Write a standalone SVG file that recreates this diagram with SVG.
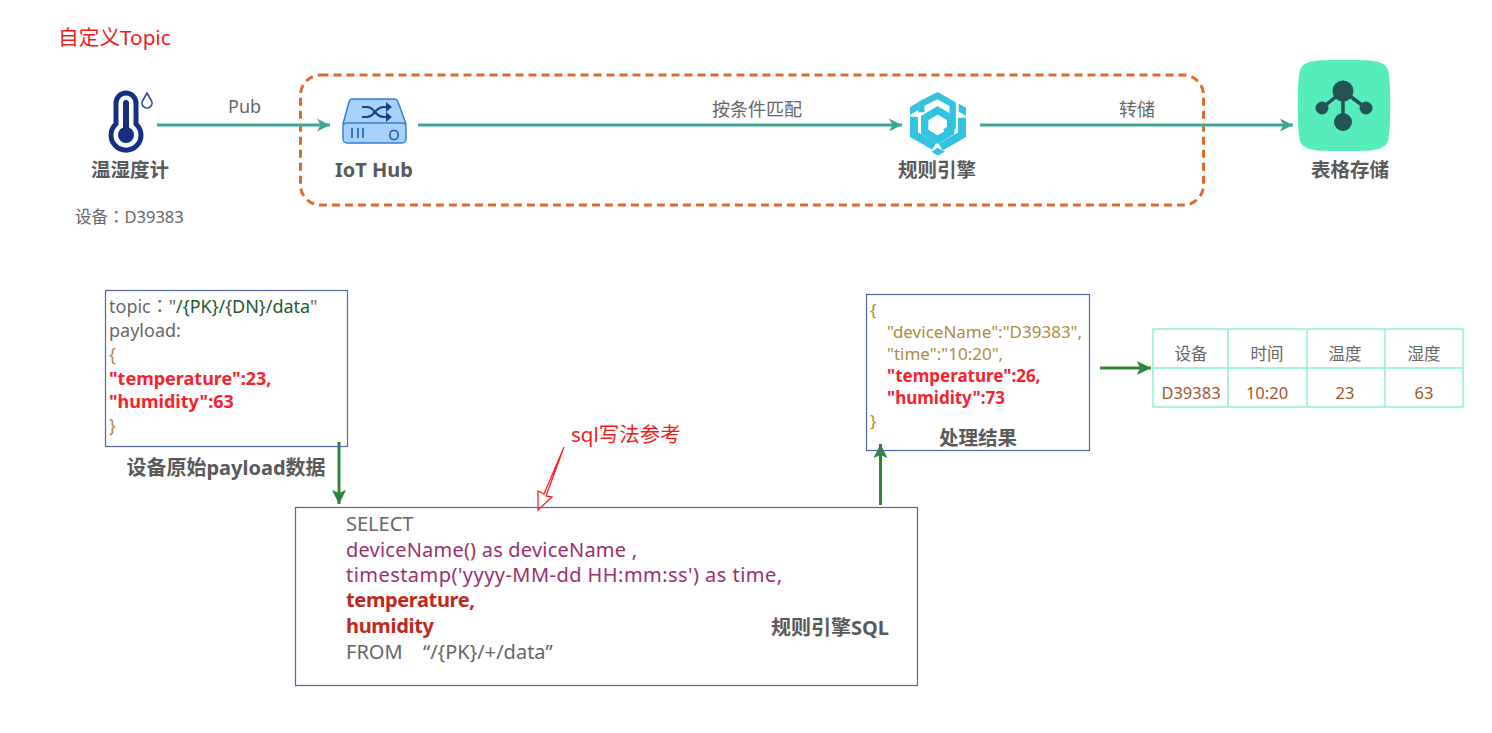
<svg xmlns="http://www.w3.org/2000/svg" width="1492" height="733" viewBox="0 0 1492 733">
<style>
text{font-family:"Noto Sans","Noto Sans CJK SC",sans-serif;fill:#666;font-size:18px}
.lbl{font-size:19.500px;font-weight:700;fill:#595959;text-anchor:middle}
.box{fill:none;stroke:#5462a8;stroke-width:1.2}
.teal{stroke:#3fa894;stroke-width:3;fill:none;marker-end:url(#mt)}
.green{stroke:#2f8437;stroke-width:3;fill:none;marker-end:url(#mg)}
.red{fill:#f5232d;font-weight:700}
.gold{fill:#b08a3e}
.pur{fill:#9b2f6f}
.dred{fill:#c0281c;font-weight:700}
.cell{fill:none;stroke:#86efd0;stroke-width:1.4}
.tc{font-size:16.500px;text-anchor:middle}
.tv{font-size:16.500px;text-anchor:middle;fill:#a0562e}
.sql{font-size:20px}
.res{font-size:17px}
.cy{fill:#31c3e0}
.cl{fill:none;stroke:#31c3e0;stroke-linejoin:miter}
.tw{font-family:"Noto Sans CJK TC",sans-serif}
</style>
<defs>
<marker id="mt" markerUnits="userSpaceOnUse" markerWidth="14" markerHeight="14" refX="13" refY="7" orient="auto"><path d="M0 0.500L13 7L0 13.500L3.500 7Z" fill="#3fa894"/></marker>
<marker id="mg" markerUnits="userSpaceOnUse" markerWidth="16" markerHeight="16" refX="14" refY="8" orient="auto"><path d="M0 1L14 8L0 15L3 8Z" fill="#2f8437"/></marker>
</defs>
<rect width="1492" height="733" fill="#fff"/>
<text id="title" x="58" y="45" style="fill:#f01c1c;font-size:20.700px">自定义Topic</text>

<g id="group-box"><rect x="300.500" y="75" width="903" height="130" rx="20" fill="none" stroke="#e06a2c" stroke-width="3" stroke-dasharray="8 5"/></g>

<g id="connectors">
<path class="teal" d="M157 125H330"/>
<path class="teal" d="M418 125H902"/>
<path class="teal" d="M980 125H1293"/>
<path class="green" d="M339 442V504"/>
<path class="green" d="M880.500 505V444"/>
<path class="green" d="M1100 368H1151"/>
<path d="M564 447L544 494L538 491L538 510L552 497L546 496Z" fill="#fff" stroke="#f5232d" stroke-width="1.300"/>
</g>
<text x="228" y="113">Pub</text>
<text x="712" y="116">按条件匹配</text>
<text x="1119" y="116">转储</text>

<g id="thermo">
<path d="M116 124V103A10 10 0 0 1 136 103V124A15 15 0 1 1 116 124Z" fill="none" stroke="#16307f" stroke-width="5"/>
<path d="M123 103A3 3 0 0 1 129 103V128H123Z" fill="#16307f"/>
<circle cx="126" cy="135" r="8" fill="#16307f"/>
<path d="M147 93L151 100A5 5 0 1 1 143 100Z" fill="#fff" stroke="#2b4a9a" stroke-width="1.600"/>
<text class="lbl" x="130" y="177">温湿度计</text>
<text x="75" y="223" style="font-size:16.500px">设备<tspan class="tw">：</tspan>D39383</text>
</g>

<g id="iothub">
<path d="M352 99H394Q397 99 398 102L406 124H343L349 102Q350 99 352 99Z" fill="#a8d2fb" stroke="#2f7fd6" stroke-width="1.500"/>
<rect x="343" y="123" width="63" height="20" rx="4" fill="#a8d2fb" stroke="#2f7fd6" stroke-width="1.500"/>
<path d="M362 107H367Q371 107 375 112Q379 117 384 117H388M362 117H367Q371 117 375 112Q379 107 384 107H388" fill="none" stroke="#16437f" stroke-width="2.200"/>
<path d="M386 102L392 107L386 112ZM386 112L392 117L386 122Z" fill="#16437f"/>
<path d="M352 128V138M358 128V138M363 128V138" stroke="#1f5fae" stroke-width="1.600"/>
<rect x="390" y="130.500" width="8" height="9" rx="3.500" fill="none" stroke="#1f5fae" stroke-width="1.600"/>
<text class="lbl" style="font-size:20px" x="374" y="177">IoT Hub</text>
</g>

<g id="rule-engine">
<g transform="translate(900 85) scale(.33333)">
<path class="cy" d="M30 66L55 52V75L30 90ZM176 56L198 68V92L176 80ZM113 188L135 200L113 212L95 200Z"/>
<path class="cl" stroke-width="24" d="M42 95V149L103 184"/>
<path class="cl" stroke-width="24" d="M186 98V149L122 186"/>
<path class="cl" stroke-width="19" d="M64 82V56L113 32L158 58V125L135 141"/>
<path class="cl" stroke-width="22" d="M113 76L152 99V141L113 164L74 141V99Z"/>
</g>
<text class="lbl" x="937" y="177">规则引擎</text>
</g>

<g id="table-store">
<path d="M1344 60C1372 60 1384 60 1388 70C1391 80 1391 130 1388 141C1384 151 1372 151 1344 151C1316 151 1304 151 1300 141C1297 130 1297 80 1300 70C1304 60 1316 60 1344 60Z" fill="#56edbd"/>
<path d="M1343 91L1322 108M1343 91L1366 108M1343 91V122" stroke="#245356" stroke-width="3.500" fill="none"/>
<circle cx="1343" cy="91" r="10.500" fill="#245356"/><circle cx="1322" cy="108" r="6.500" fill="#245356"/><circle cx="1366" cy="108" r="6.500" fill="#245356"/><circle cx="1343" cy="122" r="9" fill="#245356"/>
<text class="lbl" x="1350" y="177">表格存储</text>
</g>

<g id="payload">
<rect class="box" x="105.500" y="290.500" width="242" height="156"/>
<text x="109" y="313">topic<tspan class="tw">：</tspan>"<tspan fill="#1f5a2e">/{PK}/{DN}/data</tspan>"</text>
<text x="109" y="337">payload:</text>
<text class="gold" x="109" y="361">{</text>
<text class="red" x="109" y="385">"temperature":23,</text>
<text class="red" x="109" y="408">"humidity":63</text>
<text class="gold" x="109" y="432">}</text>
<text class="lbl" style="font-size:20px" x="226" y="475">设备原始payload数据</text>
</g>

<g id="sql">
<rect class="box" x="295.500" y="507.500" width="622" height="178"/>
<text class="sql" x="346" y="531">SELECT</text>
<text class="sql pur" x="346" y="557" textLength="291">deviceName() as deviceName ,</text>
<text class="sql pur" x="346" y="582" textLength="436">timestamp('yyyy-MM-dd HH:mm:ss') as time,</text>
<text class="sql dred" x="346" y="607" textLength="129">temperature,</text>
<text class="sql dred" x="346" y="633" textLength="88">humidity</text>
<text class="sql" x="346" y="659">FROM<tspan x="423">“/{PK}/+/data”</tspan></text>
<text class="lbl" style="font-size:20px" x="830" y="635">规则引擎SQL</text>
<text x="571" y="442" style="fill:#f01c1c;font-size:20.500px">sql写法参考</text>
</g>

<g id="result">
<rect class="box" x="866.500" y="294.500" width="223" height="156"/>
<text class="gold res" x="870" y="316">{</text>
<text class="gold res" x="887" y="338">"deviceName":"D39383",</text>
<text class="gold res" x="887" y="360">"time":"10:20",</text>
<text class="red res" x="887" y="382">"temperature":26,</text>
<text class="red res" x="887" y="404">"humidity":73</text>
<text class="gold res" x="870" y="427">}</text>
<text class="lbl" x="978" y="445">处理结果</text>
</g>

<g id="table">
<rect class="cell" x="1153" y="329" width="310" height="78"/>
<path class="cell" d="M1153 368H1463M1228 329V407M1307 329V407M1385 329V407"/>
<text class="tc" x="1191" y="360">设备</text><text class="tc" x="1267" y="360">时间</text><text class="tc" x="1345" y="360">温度</text><text class="tc" x="1424" y="360">湿度</text>
<text class="tv" x="1191" y="399">D39383</text><text class="tv" x="1267" y="399">10:20</text><text class="tv" x="1345" y="399">23</text><text class="tv" x="1424" y="399">63</text>
</g>
</svg>
